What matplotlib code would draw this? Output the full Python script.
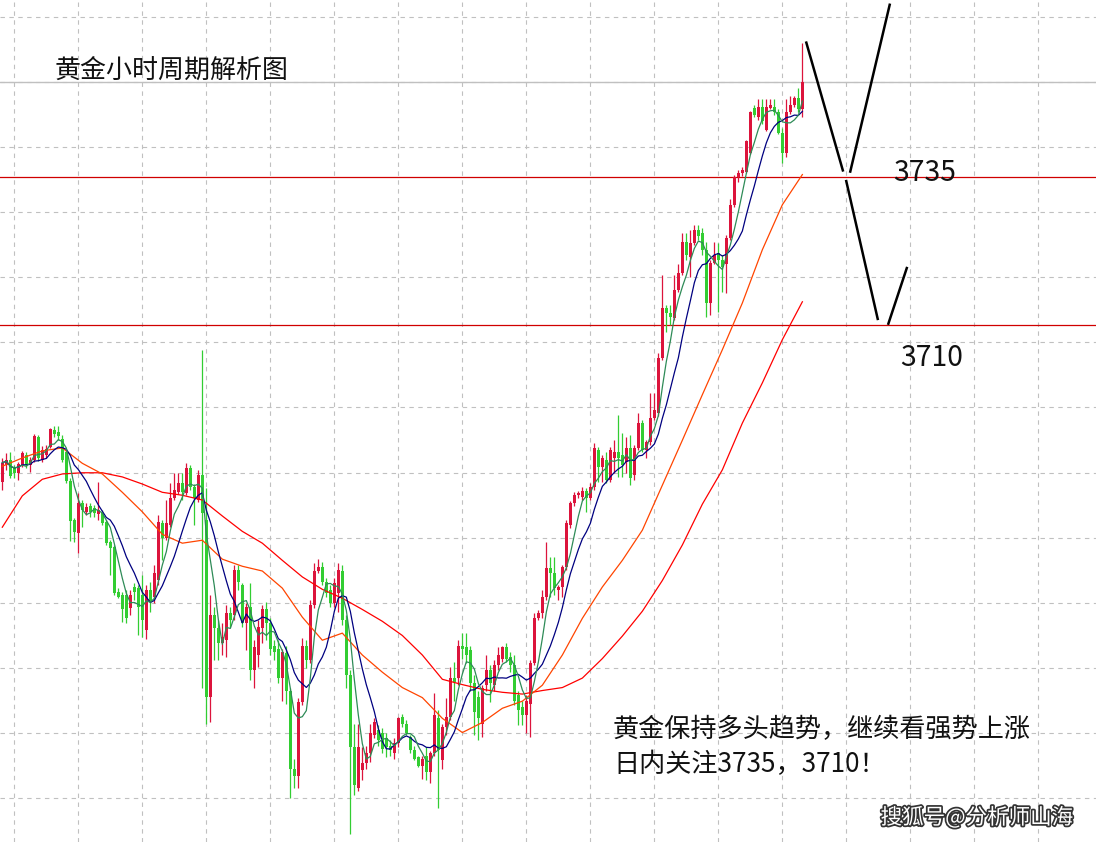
import numpy as np
import pandas as pd
import matplotlib
matplotlib.use("Agg")
import matplotlib.pyplot as plt
import matplotlib.patheffects as pe

# gold 1h candles (oldest -> newest)
opens = [
    3683.4, 3686.3, 3687.2, 3685.8, 3685.0, 3686.3, 3688.0, 3686.3, 3687.2, 3691.0,
    3687.2, 3688.0, 3689.4, 3692.2, 3691.9, 3690.7, 3688.5, 3683.6, 3677.0, 3674.8,
    3679.9, 3678.4, 3679.4, 3679.0, 3678.0, 3678.2, 3676.7, 3673.3, 3672.4, 3664.8,
    3664.3, 3664.3, 3662.1, 3665.7, 3665.5, 3664.3, 3658.4, 3665.2, 3664.0, 3666.8,
    3676.5, 3674.0, 3676.2, 3680.7, 3681.7, 3683.3, 3681.6, 3685.8, 3682.6, 3680.4,
    3684.6, 3677.0, 3647.1, 3660.9, 3658.7, 3656.2, 3656.7, 3661.3, 3660.9, 3668.5,
    3666.0, 3659.6, 3662.3, 3651.6, 3654.2, 3658.7, 3661.9, 3659.6, 3655.8, 3655.3,
    3650.3, 3654.5, 3648.2, 3635.0, 3633.7, 3646.2, 3655.8, 3653.3, 3662.6, 3668.4,
    3669.0, 3666.5, 3665.2, 3663.0, 3664.6, 3668.4, 3660.1, 3650.8, 3638.6, 3631.8,
    3634.7, 3635.9, 3637.6, 3640.6, 3641.5, 3641.1, 3640.1, 3638.9, 3637.6, 3639.4,
    3643.7, 3642.6, 3640.3, 3638.1, 3636.9, 3635.5, 3637.2, 3634.4, 3637.6, 3643.5,
    3636.4, 3642.0, 3643.7, 3650.4, 3650.3, 3655.8, 3655.5, 3655.0, 3649.4, 3647.1,
    3642.6, 3649.1, 3651.6, 3649.1, 3652.5, 3653.6, 3655.5, 3653.8, 3652.5, 3647.4,
    3645.4, 3644.0, 3646.0, 3652.8, 3660.4, 3661.3, 3664.0, 3668.9, 3668.0, 3665.2,
    3665.7, 3669.0, 3676.2, 3679.9, 3681.2, 3680.9, 3681.9, 3680.7, 3682.6, 3688.8,
    3686.0, 3687.2, 3683.8, 3687.5, 3688.5, 3688.0, 3686.8, 3689.2, 3684.6, 3689.2,
    3693.4, 3688.8, 3690.2, 3694.3, 3695.1, 3704.4, 3712.9, 3712.0, 3711.2, 3715.9,
    3718.8, 3724.0, 3721.5, 3723.9, 3726.1, 3725.6, 3722.7, 3713.7, 3720.5, 3722.2,
    3721.0, 3720.2, 3724.7, 3730.3, 3735.0, 3735.7, 3735.9, 3739.1, 3746.7, 3745.2,
    3746.9, 3743.0, 3746.7, 3746.9, 3745.9, 3742.5, 3739.1, 3746.0, 3747.2, 3748.4,
    3746.4]
highs = [
    3687.5, 3688.3, 3688.5, 3686.3, 3686.8, 3688.7, 3688.5, 3687.7, 3691.6, 3691.4,
    3689.5, 3689.7, 3692.6, 3692.9, 3692.9, 3691.4, 3688.8, 3684.1, 3677.3, 3681.6,
    3680.4, 3679.9, 3679.9, 3679.5, 3683.4, 3678.7, 3677.0, 3673.6, 3672.8, 3665.5,
    3664.8, 3665.2, 3665.2, 3666.3, 3666.0, 3667.7, 3666.0, 3666.5, 3669.4, 3677.8,
    3677.0, 3680.4, 3683.3, 3685.0, 3685.0, 3685.0, 3686.7, 3686.3, 3683.1, 3685.5,
    3705.8, 3682.4, 3664.3, 3662.3, 3660.1, 3659.6, 3662.6, 3662.3, 3669.4, 3669.4,
    3666.3, 3663.0, 3666.3, 3656.7, 3660.1, 3662.6, 3663.1, 3660.4, 3656.7, 3656.7,
    3655.3, 3655.8, 3648.6, 3636.7, 3646.9, 3657.0, 3656.7, 3663.5, 3669.7, 3670.4,
    3669.9, 3667.2, 3666.0, 3667.2, 3669.7, 3669.4, 3660.9, 3651.6, 3642.6, 3642.6,
    3638.6, 3638.9, 3642.6, 3643.5, 3642.3, 3641.8, 3641.0, 3639.8, 3640.1, 3643.8,
    3644.3, 3643.2, 3640.6, 3638.9, 3637.2, 3637.2, 3638.6, 3638.0, 3647.7, 3644.9,
    3642.6, 3646.9, 3652.1, 3653.0, 3656.7, 3657.9, 3658.0, 3655.8, 3650.8, 3648.2,
    3649.1, 3654.2, 3652.5, 3653.3, 3655.5, 3655.8, 3656.2, 3654.7, 3654.2, 3648.2,
    3646.5, 3647.4, 3653.3, 3661.3, 3661.8, 3665.2, 3673.3, 3670.7, 3670.7, 3666.0,
    3669.4, 3677.0, 3680.2, 3681.7, 3681.9, 3682.6, 3682.4, 3683.3, 3690.0, 3689.4,
    3688.0, 3688.5, 3689.4, 3690.5, 3694.8, 3691.7, 3691.0, 3691.4, 3689.7, 3695.1,
    3693.9, 3690.5, 3698.5, 3698.5, 3705.3, 3718.5, 3713.4, 3713.4, 3718.5, 3720.2,
    3725.6, 3725.6, 3726.1, 3726.9, 3726.9, 3726.4, 3724.0, 3721.0, 3724.0, 3723.9,
    3721.8, 3725.2, 3731.2, 3735.4, 3736.1, 3736.6, 3741.3, 3746.2, 3747.1, 3748.1,
    3748.2, 3748.1, 3748.1, 3748.1, 3746.4, 3743.3, 3748.1, 3748.6, 3748.6, 3750.1,
    3757.7]
lows = [
    3682.1, 3685.5, 3684.1, 3684.1, 3683.8, 3686.0, 3685.8, 3685.1, 3686.8, 3687.0,
    3686.8, 3687.5, 3689.2, 3691.0, 3690.5, 3686.8, 3683.3, 3673.4, 3673.3, 3671.4,
    3675.8, 3677.8, 3677.5, 3677.5, 3677.0, 3676.2, 3672.8, 3667.7, 3664.3, 3663.8,
    3659.7, 3659.6, 3660.9, 3663.5, 3657.5, 3657.2, 3656.9, 3661.4, 3663.0, 3666.0,
    3670.2, 3673.6, 3675.8, 3680.4, 3681.4, 3680.4, 3681.2, 3682.1, 3676.2, 3680.0,
    3648.7, 3642.6, 3642.8, 3653.3, 3653.3, 3654.2, 3653.8, 3658.9, 3660.1, 3665.2,
    3658.9, 3655.0, 3649.9, 3648.6, 3652.1, 3656.3, 3656.7, 3654.2, 3653.3, 3649.4,
    3646.5, 3646.0, 3630.0, 3631.7, 3631.7, 3645.7, 3652.0, 3652.8, 3662.1, 3668.0,
    3666.0, 3664.0, 3662.3, 3662.3, 3661.4, 3659.2, 3648.6, 3624.0, 3630.5, 3631.3,
    3633.0, 3635.0, 3636.1, 3640.1, 3638.9, 3637.7, 3636.9, 3637.2, 3636.7, 3638.6,
    3642.0, 3640.6, 3637.7, 3636.4, 3635.2, 3633.3, 3633.0, 3632.5, 3637.2, 3628.3,
    3635.0, 3640.6, 3643.2, 3646.5, 3649.1, 3653.6, 3652.8, 3648.2, 3640.6, 3639.8,
    3640.3, 3648.2, 3646.2, 3648.2, 3651.6, 3653.0, 3653.0, 3651.3, 3645.7, 3642.3,
    3642.3, 3641.0, 3640.3, 3652.5, 3660.1, 3660.4, 3663.5, 3664.0, 3664.3, 3663.5,
    3664.0, 3668.5, 3675.6, 3679.4, 3680.7, 3680.4, 3678.4, 3680.4, 3682.1, 3683.4,
    3683.4, 3683.3, 3683.4, 3685.0, 3684.3, 3684.3, 3685.0, 3682.9, 3683.8, 3688.8,
    3688.5, 3687.5, 3689.7, 3693.9, 3694.6, 3704.1, 3708.8, 3710.0, 3710.8, 3715.6,
    3718.5, 3721.0, 3718.1, 3723.5, 3724.4, 3721.8, 3711.4, 3711.7, 3720.2, 3712.2,
    3715.6, 3715.4, 3724.4, 3730.0, 3734.2, 3735.2, 3735.6, 3738.8, 3745.2, 3744.7,
    3744.0, 3742.7, 3746.4, 3745.5, 3742.2, 3737.4, 3738.3, 3745.7, 3746.9, 3746.0,
    3745.2]
closes = [
    3686.7, 3687.2, 3684.4, 3685.0, 3686.5, 3688.3, 3686.3, 3687.2, 3691.2, 3687.5,
    3688.8, 3689.0, 3692.4, 3691.6, 3691.2, 3687.2, 3683.6, 3676.8, 3675.0, 3679.9,
    3678.7, 3679.2, 3678.4, 3678.2, 3678.7, 3676.5, 3673.1, 3672.3, 3664.6, 3664.0,
    3661.9, 3660.4, 3664.3, 3664.8, 3662.4, 3660.1, 3665.2, 3663.1, 3668.0, 3676.7,
    3674.0, 3676.5, 3680.7, 3682.1, 3683.3, 3681.7, 3685.8, 3682.6, 3680.7, 3684.6,
    3678.2, 3647.1, 3660.9, 3658.7, 3656.2, 3657.2, 3661.3, 3660.1, 3668.5, 3666.5,
    3659.6, 3662.3, 3651.6, 3655.5, 3658.9, 3661.9, 3659.6, 3655.3, 3654.7, 3650.3,
    3654.7, 3648.2, 3635.0, 3633.7, 3646.2, 3655.8, 3653.3, 3662.6, 3668.4, 3669.0,
    3666.5, 3664.6, 3663.0, 3666.3, 3668.5, 3660.1, 3650.8, 3638.6, 3632.2, 3638.6,
    3635.9, 3637.7, 3641.0, 3642.8, 3639.8, 3638.4, 3638.6, 3638.1, 3639.4, 3643.5,
    3642.6, 3641.0, 3638.1, 3636.7, 3635.5, 3636.7, 3634.4, 3637.6, 3644.0, 3638.1,
    3642.1, 3643.8, 3650.4, 3649.6, 3655.8, 3655.3, 3654.2, 3649.4, 3644.5, 3643.5,
    3648.6, 3651.6, 3649.4, 3652.5, 3654.2, 3655.5, 3653.6, 3652.5, 3646.5, 3644.9,
    3644.0, 3646.5, 3652.8, 3660.4, 3661.3, 3664.0, 3668.9, 3668.0, 3665.5, 3665.7,
    3669.0, 3676.5, 3679.9, 3681.2, 3681.6, 3681.9, 3680.7, 3682.6, 3689.2, 3686.0,
    3687.5, 3683.8, 3688.8, 3688.5, 3687.5, 3686.3, 3689.2, 3684.1, 3689.2, 3693.4,
    3688.8, 3690.2, 3694.3, 3695.6, 3704.4, 3712.9, 3712.0, 3711.4, 3715.9, 3718.8,
    3724.0, 3721.8, 3723.9, 3726.1, 3725.0, 3722.7, 3713.7, 3720.5, 3721.8, 3721.0,
    3719.8, 3724.7, 3730.3, 3735.0, 3735.7, 3736.1, 3741.0, 3745.9, 3745.5, 3746.9,
    3744.4, 3746.9, 3747.2, 3745.9, 3742.5, 3739.1, 3746.0, 3747.2, 3748.4, 3746.4,
    3751.1]

# slow moving averages, every 5 bars
ma_bars = list(range(0, 201, 5))
ma_orange = [
    3686.1, 3687.5, 3688.7, 3689.2, 3686.6, 3684.8, 3681.7, 3678.4, 3674.6, 3673.1,
    3673.6, 3670.4, 3669.2, 3668.4, 3665.5, 3660.6, 3656.7, 3657.9, 3654.2, 3651.3,
    3648.7, 3647.0, 3643.5, 3641.1, 3642.8, 3645.2, 3646.4, 3649.1, 3654.2, 3660.4,
    3665.7, 3670.2, 3675.3, 3682.9, 3690.5, 3698.2, 3705.8, 3713.7, 3722.7, 3730.3,
    3735.4]
ma_red = [
    3675.8, 3681.1, 3683.9, 3684.8, 3685.0, 3685.0, 3684.3, 3683.1, 3681.7, 3681.2,
    3680.4, 3677.7, 3675.1, 3673.1, 3670.2, 3667.4, 3665.3, 3663.8, 3661.9, 3659.9,
    3657.5, 3654.2, 3650.1, 3649.2, 3648.4, 3647.9, 3647.6, 3648.2, 3648.7, 3650.3,
    3653.6, 3657.4, 3661.6, 3666.8, 3672.8, 3679.7, 3685.5, 3693.4, 3700.2, 3707.5,
    3713.9]

levels = [3735, 3710]
level_labels = ["3735", "3710"]

# hand drawn forecast strokes (bar index, price)
strokes = [
    ([200.9, 210.2], [3757.9, 3735.9]),
    ([211.9, 221.9], [3735.7, 3764.3]),
    ([210.9, 218.9], [3734.5, 3710.8]),
    ([221.4, 226.2], [3710.0, 3719.8]),
]

plt.rcParams['font.family'] = ['Noto Sans CJK SC', 'DejaVu Sans']

fig = plt.figure(figsize=(10.96, 8.42), dpi=100)
ax = fig.add_axes([0, 0, 1, 1])
ax.set_xlim(-0.575, 273.4)
ax.set_ylim(3622.6, 3764.9)

# grid like the terminal
ax.set_xticks(np.arange(3, 274, 16))
ax.set_yticks(np.arange(3762.1, 3620, -11.01))
ax.tick_params(length=0, labelbottom=False, labelleft=False)
ax.grid(True, color='#c0c0c0', linestyle=(0, (4, 4)), linewidth=0.8)
ax.set_axisbelow(True)
for s in ax.spines.values():
    s.set_visible(False)

o = np.array(opens)
h = np.array(highs)
l = np.array(lows)
c = np.array(closes)
x = np.arange(len(c))
up = c >= o
cols = np.where(up, '#DC143C', '#32CD32')

ax.vlines(x, l, h, colors=cols, linewidth=0.9, zorder=2)
body = np.maximum(np.abs(c - o), 0.25)
ax.bar(x, body, bottom=np.minimum(o, c), width=0.7, color=cols, linewidth=0, zorder=3)

# fast averages from closes
cs = pd.Series(c)
ma5 = cs.rolling(5, min_periods=1).mean()
ma10 = cs.rolling(10, min_periods=1).mean()
ax.plot(ma_bars, ma_red, color='#FF0000', linewidth=0.9, zorder=4)
ax.plot(ma_bars, ma_orange, color='#FF4500', linewidth=0.9, zorder=4)
ax.plot(x, ma10, color='#000080', linewidth=0.9, zorder=5)
ax.plot(x, ma5, color='#2E8B57', linewidth=0.9, zorder=5)

# key levels and bid line
for lv in levels:
    ax.axhline(lv, color='#D00000', linewidth=0.9, zorder=1)
ax.axhline(closes[-1], color='#C0C0C0', linewidth=1.0, zorder=1)

for sx, sy in strokes:
    ax.plot(sx, sy, color='black', linewidth=1.8, solid_capstyle='butt', zorder=6)

ax.text(0.050, 0.917, "黄金小时周期解析图", transform=ax.transAxes, fontsize=18.7,
        ha='left', va='center', color='#111111')
ax.text(0.8148, 0.7945, level_labels[0], transform=ax.transAxes, fontsize=20.3,
        ha='left', va='center', color='#111111')
ax.text(0.8212, 0.5748, level_labels[1], transform=ax.transAxes, fontsize=20.3,
        ha='left', va='center', color='#111111')
ax.text(0.5593, 0.1330, "黄金保持多头趋势，继续看强势上涨", transform=ax.transAxes,
        fontsize=18.8, ha='left', va='center', color='#111111')
ax.text(0.5593, 0.0914, "日内关注3735，3710！", transform=ax.transAxes,
        fontsize=18.8, ha='left', va='center', color='#111111')
ax.text(0.979, 0.0285, "搜狐号@分析师山海", transform=ax.transAxes, fontsize=15.5,
        ha='right', va='center', color='white',
        path_effects=[pe.withStroke(linewidth=2.5, foreground='#333333')])

fig.savefig("out.png", dpi=100)
